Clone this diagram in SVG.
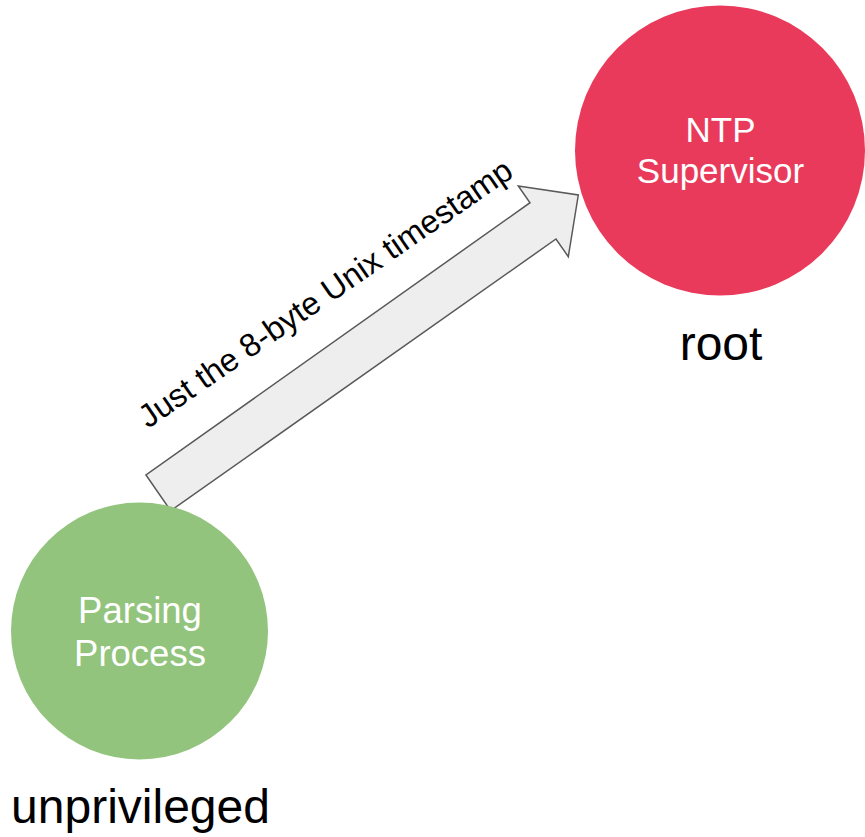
<svg xmlns="http://www.w3.org/2000/svg" width="865" height="837" viewBox="0 0 865 837">
<style>
.lbl{font-family:"Liberation Sans",Arial,sans-serif;}
.in{fill:#ffffff;font-size:35px;text-anchor:middle;}
.pp{font-size:36.5px;}
.out{fill:#000000;font-size:48px;text-anchor:middle;}
.arr{fill:#eeeeee;stroke:#595959;stroke-width:1.5;stroke-linejoin:miter;}
</style>
<rect width="865" height="837" fill="#ffffff"/>
<g id="connectors">
<polygon class="arr" points="146,475 170.7,510.7 556,239 568.3,256.7 578.3,195 518.3,186 530,202.7"/>
<text class="lbl" font-size="32.5" fill="#000000" transform="translate(148,429) rotate(-34.6)">Just the 8-byte Unix timestamp</text>
</g>
<g id="ntp-supervisor">
<circle cx="720" cy="150.5" r="145" fill="#e93a5b"/>
<text class="lbl in" x="720.5" y="141.7">NTP</text>
<text class="lbl in" x="720.5" y="183.3">Supervisor</text>
<text class="lbl out" x="721" y="360">root</text>
</g>
<g id="parsing-process">
<circle cx="139.5" cy="631" r="128.5" fill="#93c47d"/>
<text class="lbl in pp" x="140" y="622.7">Parsing</text>
<text class="lbl in pp" x="140" y="665.7">Process</text>
<text class="lbl out" x="140.5" y="823">unprivileged</text>
</g>
</svg>
